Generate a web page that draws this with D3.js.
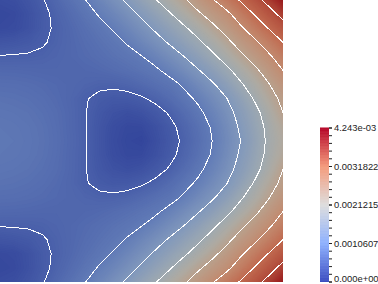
<!DOCTYPE html>
<html>
<head>
<meta charset="utf-8">
<script src="https://cdn.jsdelivr.net/npm/d3@7"></script>
<style>
html, body { margin: 0; padding: 0; background: #fff; overflow: hidden; }
svg { display: block; }
text { font-family: "Liberation Sans", sans-serif; }
</style>
</head>
<body>
<svg id="chart" width="378" height="284"></svg>
<script>
// field values, in ninths of the maximum (9 = 4.243e-3)
// the picture is mirrored about its middle row, so row10 is the centre line
const row0  = [0.30,0.38,0.62,0.95,1.32,1.65,1.98,2.35,2.73,3.12,3.56,3.97,4.43,4.90,5.41,5.93,6.48,7.08,7.67,8.30,9.00];
const row1  = [0.15,0.22,0.48,0.83,1.16,1.45,1.75,2.05,2.37,2.73,3.12,3.53,3.94,4.40,4.87,5.33,5.80,6.41,7.05,7.65,8.28];
const row2  = [0.22,0.28,0.50,0.84,1.10,1.33,1.57,1.80,2.05,2.38,2.75,3.11,3.50,3.89,4.33,4.80,5.30,5.88,6.45,7.04,7.62];
const row3  = [0.62,0.68,0.78,0.93,1.14,1.30,1.47,1.64,1.83,2.05,2.38,2.73,3.08,3.47,3.86,4.31,4.79,5.33,5.85,6.40,7.00];
const row4  = [1.03,1.05,1.07,1.12,1.20,1.30,1.40,1.52,1.66,1.80,1.98,2.30,2.65,3.00,3.42,3.85,4.31,4.83,5.33,5.88,6.42];
const row5  = [1.33,1.32,1.30,1.27,1.26,1.26,1.30,1.35,1.45,1.57,1.72,1.88,2.22,2.58,2.95,3.37,3.82,4.32,4.82,5.40,6.00];
const row6  = [1.53,1.52,1.48,1.42,1.35,1.28,1.20,1.13,1.12,1.20,1.37,1.57,1.75,2.10,2.52,2.90,3.37,3.90,4.40,4.96,5.55];
const row7  = [1.68,1.65,1.60,1.52,1.40,1.25,1.05,0.85,0.75,0.78,0.92,1.15,1.45,1.78,2.12,2.55,2.97,3.50,4.07,4.65,5.20];
const row8  = [1.78,1.75,1.70,1.60,1.47,1.28,1.03,0.72,0.50,0.40,0.50,0.75,1.07,1.46,1.84,2.27,2.73,3.25,3.77,4.36,5.00];
const row9  = [1.85,1.82,1.76,1.66,1.50,1.28,1.04,0.66,0.34,0.18,0.20,0.46,0.82,1.22,1.63,2.07,2.57,3.10,3.63,4.20,4.72];
const row10 = [1.88,1.85,1.78,1.68,1.52,1.30,1.05,0.65,0.30,0.12,0.04,0.38,0.74,1.12,1.55,2.00,2.50,3.00,3.55,4.15,4.60];
const fieldRows = [row0,row1,row2,row3,row4,row5,row6,row7,row8,row9,row10,row9,row8,row7,row6,row5,row4,row3,row2,row1,row0];

const contourLevels = [1,2,3,4,5,6,7,8];

// shaded colours in the plot (the bar is brighter than the lit surface)
const fieldStops = [0,1,2,3,4,4.5,5,6,7,8,9];
const fieldColors = ["#33459b","#4a60aa","#627cb7","#8198bc","#a0aab0","#aeaaa2","#b9a08c","#c28a6f","#c06a50","#b04a3a","#98181c"];

const barStops = [0,0.25,0.5,0.75,1];
const barColors = ["#3b4cc0","#8db0fe","#dddddd","#f49a7b","#b40426"];
const barMax = 4.243e-3;
const barTicks = [0,0.0010607,0.0021215,0.0031822,4.243e-3];
const barLabels = ["0.000e+00","0.0010607","0.0021215","0.0031822","4.243e-03"];

const svg = d3.select("#chart");
const nCols = row0.length, nRows = fieldRows.length;
const values = fieldRows.flat();

const x = d3.scaleLinear().domain([0,nCols-1]).range([0,283]);
const y = d3.scaleLinear().domain([0,nRows-1]).range([0,282]);
const color = d3.scaleLinear().domain(fieldStops).range(fieldColors).interpolate(d3.interpolateRgb);

// d3.contours puts grid node i at i+0.5
const path = d3.geoPath(d3.geoTransform({
    point: function(px, py) { this.stream.point(x(px-0.5), y(py-0.5)); }
}));

svg.append("clipPath").attr("id","plot-clip")
    .append("rect").attr("width",283).attr("height",282);

const plot = svg.append("g").attr("clip-path","url(#plot-clip)");

const bands = d3.range(0,9,0.05);
plot.append("rect").attr("width",283).attr("height",282).attr("fill",color(0));
plot.append("g").selectAll("path")
    .data(d3.contours().size([nCols,nRows]).thresholds(bands)(values))
    .enter().append("path")
    .attr("d",path)
    .attr("fill",d=>color(d.value));

plot.append("g").selectAll("path")
    .data(d3.contours().size([nCols,nRows]).thresholds(contourLevels)(values))
    .enter().append("path")
    .attr("d",path)
    .attr("fill","none")
    .attr("stroke","#fff")
    .attr("stroke-width",1)
    .attr("shape-rendering","crispEdges");

// colour bar
const barY = d3.scaleLinear().domain([0,barMax]).range([281.5,127.5]);
const barColor = d3.scaleLinear().domain(barStops).range(barColors);
const barSteps = d3.range(0,256);
svg.append("g").selectAll("rect")
    .data(barSteps)
    .enter().append("rect")
    .attr("x",320).attr("width",9)
    .attr("y",d=>barY((d+1)/256*barMax))
    .attr("height",154/256+0.5)
    .attr("fill",d=>barColor((d+0.5)/256));

const minorTicks = d3.range(0,21).map(i=>barTicks[4]*i/20);
svg.append("g").attr("transform","translate(329,0)")
    .call(d3.axisRight(barY).tickValues(minorTicks).tickSize(3).tickFormat(""))
    .call(g=>g.select(".domain").remove())
    .call(g=>g.selectAll("line").attr("stroke","#222"));

svg.append("g").attr("transform","translate(329,0)")
    .call(d3.axisRight(barY).tickValues(barTicks).tickSize(3).tickPadding(2)
        .tickFormat((d,i)=>barLabels[i]))
    .call(g=>g.select(".domain").remove())
    .call(g=>g.selectAll("line").attr("stroke","#222"))
    .call(g=>g.selectAll("text").attr("font-size",9.4).attr("fill","#222")
        .attr("font-family","Liberation Sans, sans-serif")
        .attr("dy",(d,i)=>i==0?"-0.05em":"0.32em"));
</script>
</body>
</html>
